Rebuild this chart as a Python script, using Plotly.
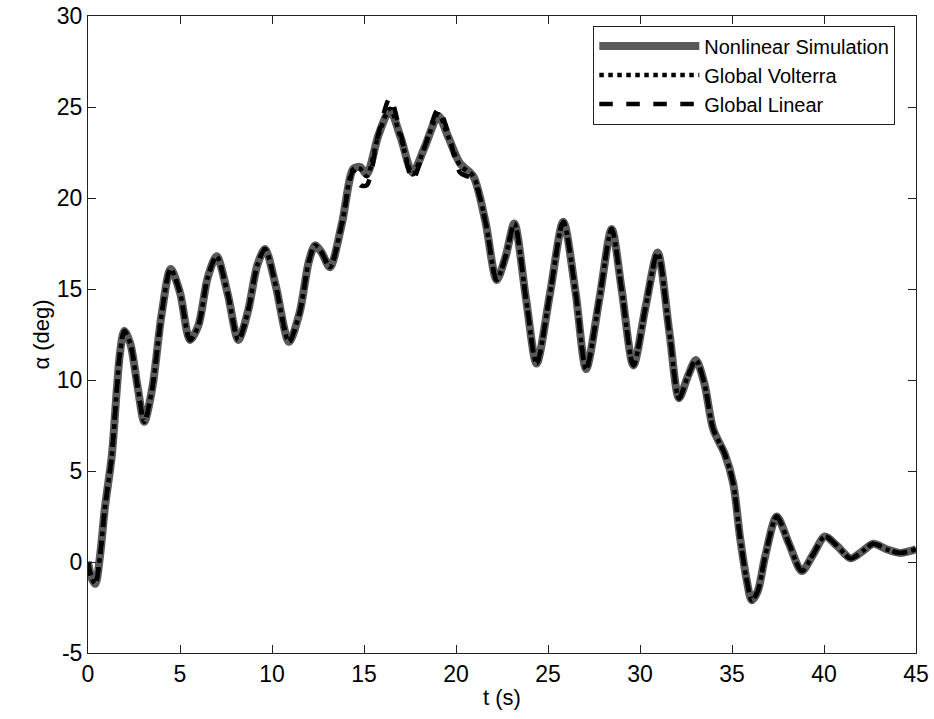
import plotly.graph_objects as go

# ---- data ----
t_nl = [0, 0.2, 0.4, 0.65, 0.92, 1.29, 1.56, 1.74, 1.97, 2.3, 2.7, 3.06, 3.5, 4.0, 4.49,
        5.0, 5.54, 6.0, 6.5, 6.99, 7.6, 8.17, 8.7, 9.2, 9.62, 10.2, 10.92, 11.5, 12.0, 12.34,
        12.7, 13.15, 13.8, 14.42, 14.8, 15.15, 15.8, 16.41, 17.0, 17.64, 18.3, 19.04, 19.6,
        20.22, 20.94, 21.6, 22.21, 22.7, 23.17, 23.8, 24.38, 25.1, 25.83, 26.5, 27.07, 27.8,
        28.46, 29.0, 29.64, 30.3, 30.96, 31.6, 32.12, 32.6, 33.04, 33.5, 33.98, 34.62, 35.07,
        35.43, 35.8, 36.07, 36.4, 36.8, 37.43, 38.1, 38.79, 39.4, 40.05, 40.7, 41.45, 42.1,
        42.68, 43.4, 44.13, 45.0]

alpha_nonlinear = [0.0, -0.9, -1.2, 0.3, 3.0, 5.8, 9.4, 11.5, 12.7, 12.0, 9.6, 7.7, 9.6, 13.6, 16.1,
                   14.8, 12.2, 13.0, 15.6, 16.8, 14.7, 12.2, 13.8, 16.3, 17.2, 15.2, 12.1, 13.7, 16.5, 17.4,
                   17.0, 16.2, 18.6, 21.6, 21.7, 21.3, 23.5, 24.8, 23.3, 21.4, 22.8, 24.5, 23.3,
                   21.9, 21.2, 18.7, 15.5, 16.8, 18.6, 14.5, 10.9, 14.7, 18.7, 14.8, 10.6, 14.5,
                   18.3, 15.0, 10.8, 14.0, 17.0, 12.6, 9.0, 10.2, 11.1, 9.8, 7.3, 5.9, 4.3,
                   1.4, -1.0, -2.1, -1.6, 0.3, 2.5, 1.0, -0.5, 0.4, 1.4, 0.9, 0.2, 0.6,
                   1.0, 0.7, 0.5, 0.7]

alpha_volterra = [0.0, -0.9, -1.2, 0.3, 3.0, 5.8, 9.4, 11.5, 12.7, 12.0, 9.6, 7.7, 9.6, 13.6, 16.1,
                  14.8, 12.2, 13.0, 15.6, 16.8, 14.7, 12.2, 13.8, 16.3, 17.2, 15.2, 12.1, 13.7, 16.5, 17.4,
                  17.0, 16.2, 18.6, 21.6, 21.6, 21.2, 23.5, 24.9, 23.3, 21.3, 22.8, 24.6, 23.3,
                  21.8, 21.2, 18.7, 15.5, 16.8, 18.6, 14.5, 10.9, 14.7, 18.7, 14.8, 10.6, 14.5,
                  18.3, 15.0, 10.8, 14.0, 17.0, 12.6, 9.0, 10.2, 11.1, 9.8, 7.3, 5.9, 4.3,
                  1.4, -1.0, -2.1, -1.6, 0.3, 2.5, 1.0, -0.5, 0.4, 1.4, 0.9, 0.2, 0.6,
                  1.0, 0.7, 0.5, 0.7]

alpha_linear = [0.0, -0.9, -1.2, 0.3, 3.0, 5.8, 9.4, 11.5, 12.7, 12.0, 9.6, 7.7, 9.6, 13.6, 16.1,
                14.8, 12.2, 13.0, 15.6, 16.8, 14.7, 12.2, 13.8, 16.3, 17.2, 15.2, 12.1, 13.7, 16.5, 17.4,
                17.0, 16.2, 18.6, 21.5, 20.7, 20.7, 23.6, 25.5, 23.5, 21.0, 22.8, 24.9, 23.5,
                21.4, 21.0, 18.7, 15.5, 16.8, 18.6, 14.5, 10.9, 14.7, 18.7, 14.8, 10.6, 14.5,
                18.3, 15.0, 10.8, 14.0, 17.0, 12.6, 9.0, 10.2, 11.1, 9.8, 7.3, 5.9, 4.3,
                1.4, -1.0, -2.1, -1.6, 0.3, 2.5, 1.0, -0.5, 0.4, 1.4, 0.9, 0.2, 0.6,
                1.0, 0.7, 0.5, 0.7]

x_ticks = [0, 5, 10, 15, 20, 25, 30, 35, 40, 45]
y_ticks = [-5, 0, 5, 10, 15, 20, 25, 30]

FONT = "Liberation Sans, Arial, sans-serif"

fig = go.Figure()
fig.add_trace(go.Scatter(x=t_nl, y=alpha_nonlinear, mode="lines", name="Nonlinear Simulation",
                         line=dict(color="#5a5a5a", width=8, shape="spline", smoothing=0.8)))
fig.add_trace(go.Scatter(x=t_nl, y=alpha_volterra, mode="lines", name="Global Volterra",
                         line=dict(color="black", width=4.5, dash="dot", shape="spline", smoothing=0.8)))
fig.add_trace(go.Scatter(x=t_nl, y=alpha_linear, mode="lines", name="Global Linear",
                         line=dict(color="black", width=4.5, dash="dash", shape="spline", smoothing=0.8)))

axis_common = dict(showgrid=False, zeroline=False, showline=True, linecolor="#222", linewidth=1,
                   mirror="ticks", ticks="inside", ticklen=8, tickcolor="#222", tickwidth=1,
                   automargin=False, ticklabeloverflow="allow",
                   tickfont=dict(family=FONT, size=23, color="black"))

fig.update_xaxes(range=[0, 45], tickvals=x_ticks, ticktext=[str(v) for v in x_ticks],
                 title=dict(text="t (s)", font=dict(family=FONT, size=22, color="black"), standoff=4),
                 **axis_common)
fig.update_yaxes(range=[-5, 30], tickvals=y_ticks, ticktext=[str(v) for v in y_ticks],
                 title=dict(text="α (deg)", font=dict(family=FONT, size=22, color="black"), standoff=1),
                 **axis_common)

fig.update_layout(
    width=934, height=719,
    margin=dict(l=88, r=18, t=16, b=66),
    paper_bgcolor="white", plot_bgcolor="white",
    font=dict(family=FONT, size=22, color="black"),
    legend=dict(x=0.975, y=0.985, xanchor="right", yanchor="top",
                bgcolor="white", bordercolor="#222", borderwidth=1,
                font=dict(family=FONT, size=20, color="black"),
                itemwidth=100, tracegroupgap=0),
    showlegend=True,
)

# remove the default 8px page margin so the 934x719 figure fills the window exactly
fig.write_html("out.html", config={"displayModeBar": False},
               post_script="document.body.style.margin='0px';")
